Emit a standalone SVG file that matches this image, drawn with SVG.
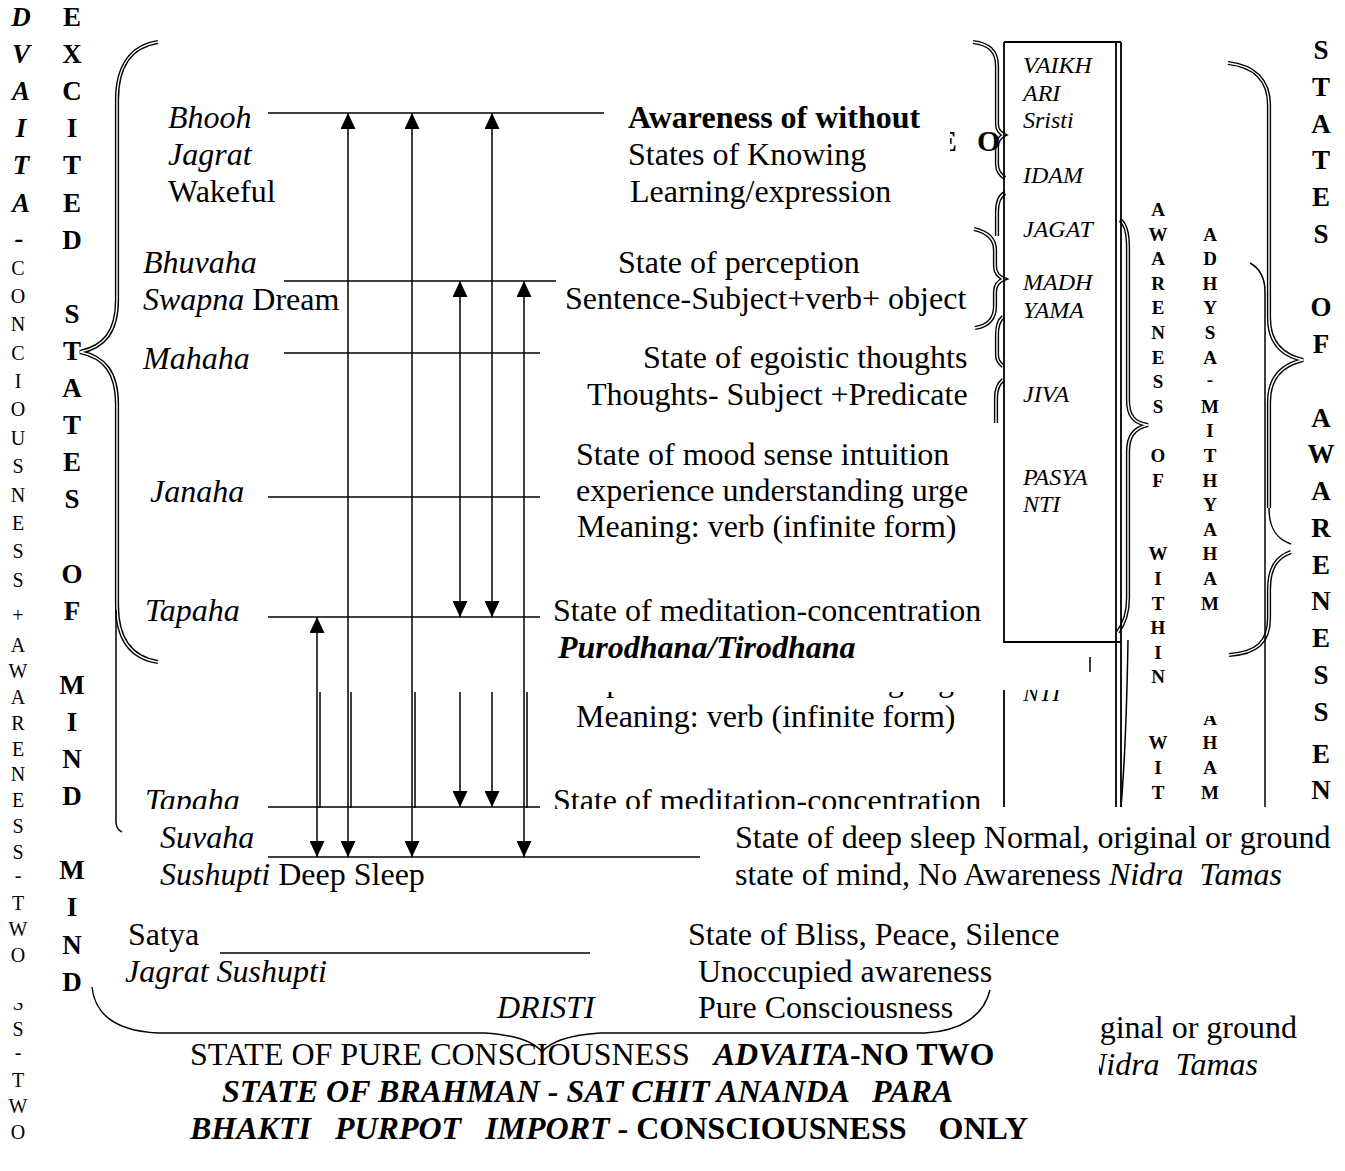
<svg xmlns="http://www.w3.org/2000/svg" width="1345" height="1171" viewBox="0 0 1345 1171">
<style>
text{font-family:"Liberation Serif","Times New Roman",serif;fill:#000}
.t{font-size:32px}
.i{font-style:italic}
.b{font-weight:bold}
.bx{font-size:24px;font-style:italic}
.cL{font-size:27px;font-weight:bold;text-anchor:middle}
.cP{font-size:20px;text-anchor:middle}
.cS{font-size:19px;font-weight:bold;text-anchor:middle}
.ln{stroke:#000;stroke-width:1.5;fill:none}
.bl{stroke:#000;stroke-width:1.8;fill:none}
.dO{stroke:#000;stroke-width:4.2;fill:none}
.dI{stroke:#fff;stroke-width:1.4;fill:none}
</style>
<defs>
<marker id="ah" viewBox="0 0 16 15" refX="16" refY="7.5" markerWidth="16" markerHeight="15" markerUnits="userSpaceOnUse" orient="auto-start-reverse"><path d="M0,0 L16,7.5 L0,15 z" fill="#000"/></marker>
<clipPath id="gL"><rect x="100" y="692" width="900" height="117"/></clipPath>
<clipPath id="gNTI"><rect x="1005" y="690" width="100" height="119"/></clipPath>
<clipPath id="gCol"><rect x="1140" y="716" width="100" height="93"/></clipPath>
<clipPath id="gFar"><rect x="1295" y="737" width="50" height="72"/></clipPath>
<clipPath id="gBR"><rect x="1099" y="1000" width="246" height="171"/></clipPath>
<clipPath id="gBL"><rect x="0" y="1003" width="50" height="168"/></clipPath>
<clipPath id="cEO"><rect x="950" y="100" width="60" height="80"/></clipPath>
<path id="bLB" d="M158 42 C132 46 117 65 117 100 L117 300 C117 332 104 347 80 352 C104 357 117 372 117 404 L117 605 C117 640 132 658 158 662"/>
<path id="bA" d="M973 42 C988 44 997 50 997 66 L997 124 C997 130 1000 133 1004 135 C1000 137 997 141 997 147 L997 164 C997 171 1000 175 1005 178"/>
<path id="bB" d="M1005 193 C999 196 997 202 997 212 L997 236"/>
<path id="bC" d="M974 229 C987 232 995 238 995 250 L995 266 C995 273 999 277 1004 279 C999 281 995 285 995 292 L995 306 C995 319 988 326 975 328"/>
<path id="bD" d="M1003 317 C998 321 997 328 997 335 L997 355 C997 360 999 363 1003 366"/>
<path id="bE" d="M1003 380 C998 384 996 390 996 398 L996 423"/>
<path id="bR" d="M1120 220 C1126 224 1128 233 1128 248 L1128 400 C1128 416 1134 423 1148 425 C1134 428 1128 436 1128 452 L1128 598 C1128 614 1124 624 1118 632"/>
<path id="bRR1" d="M1228 63 C1254 66 1269 80 1269 105 L1269 318 C1269 342 1281 355 1303 360 C1281 365 1269 378 1269 402 L1269 508"/>
<path id="bRR2" d="M1291 552 C1277 557 1269 567 1269 590 L1269 618 C1269 642 1257 653 1229 655"/>
</defs>
<rect width="1345" height="1171" fill="#fff"/>

<g id="col-dvaita">
<text class="cL i"><tspan x="21" y="26">D</tspan><tspan x="21" y="63.1">V</tspan><tspan x="21" y="100.2">A</tspan><tspan x="21" y="137.3">I</tspan><tspan x="21" y="174.4">T</tspan><tspan x="21" y="211.5">A</tspan><tspan x="19" y="247">-</tspan></text>
<text class="cP"><tspan x="18" y="274.6">C</tspan><tspan x="18" y="303">O</tspan><tspan x="18" y="331.3">N</tspan><tspan x="18" y="359.7">C</tspan><tspan x="18" y="388.1">I</tspan><tspan x="18" y="416.4">O</tspan><tspan x="18" y="444.8">U</tspan><tspan x="18" y="473.1">S</tspan><tspan x="18" y="501.5">N</tspan><tspan x="18" y="529.9">E</tspan><tspan x="18" y="558.2">S</tspan><tspan x="18" y="586.6">S</tspan><tspan x="18" y="622">+</tspan><tspan x="18" y="652.4">A</tspan><tspan x="18" y="678.1">W</tspan><tspan x="18" y="703.9">A</tspan><tspan x="18" y="729.6">R</tspan><tspan x="18" y="755.5">E</tspan><tspan x="18" y="781.3">N</tspan><tspan x="18" y="807.1">E</tspan><tspan x="18" y="832.8">S</tspan><tspan x="18" y="858.6">S</tspan><tspan x="18" y="882">-</tspan><tspan x="18" y="910.1">T</tspan><tspan x="18" y="935.9">W</tspan><tspan x="18" y="961.6">O</tspan></text>
<text class="cP" clip-path="url(#gBL)"><tspan x="18" y="1009.8">S</tspan><tspan x="18" y="1035.6">S</tspan><tspan x="18" y="1059.3">-</tspan><tspan x="18" y="1087.1">T</tspan><tspan x="18" y="1112.9">W</tspan><tspan x="18" y="1138.6">O</tspan></text>
</g>

<g id="col-excited">
<text class="cL"><tspan x="72" y="26">E</tspan><tspan x="72" y="63.1">X</tspan><tspan x="72" y="100.2">C</tspan><tspan x="72" y="137.3">I</tspan><tspan x="72" y="174.4">T</tspan><tspan x="72" y="211.5">E</tspan><tspan x="72" y="248.6">D</tspan><tspan x="72" y="322.8">S</tspan><tspan x="72" y="359.9">T</tspan><tspan x="72" y="397">A</tspan><tspan x="72" y="434.1">T</tspan><tspan x="72" y="471.2">E</tspan><tspan x="72" y="508.3">S</tspan><tspan x="72" y="582.5">O</tspan><tspan x="72" y="619.6">F</tspan><tspan x="72" y="693.8">M</tspan><tspan x="72" y="730.9">I</tspan><tspan x="72" y="768">N</tspan><tspan x="72" y="805.1">D</tspan><tspan x="72" y="879.3">M</tspan><tspan x="72" y="916.4">I</tspan><tspan x="72" y="953.5">N</tspan><tspan x="72" y="990.6">D</tspan></text>
</g>

<g id="braces">
<use href="#bLB" class="dO"/><use href="#bLB" class="dI"/>
<path class="ln" d="M116 610 L116 822 C116 827 118 830 122 832"/>
<use href="#bA" class="dO"/><use href="#bA" class="dI"/>
<use href="#bB" class="dO"/><use href="#bB" class="dI"/>
<use href="#bC" class="dO"/><use href="#bC" class="dI"/>
<use href="#bD" class="dO"/><use href="#bD" class="dI"/>
<use href="#bE" class="dO"/><use href="#bE" class="dI"/>
<use href="#bR" class="dO"/><use href="#bR" class="dI"/>
<path class="ln" d="M1128 640 C1127 700 1125 760 1121 807"/>
<use href="#bRR1" class="dO"/><use href="#bRR1" class="dI"/>
<path class="ln" d="M1269 508 C1269 528 1276 539 1291 544"/>
<use href="#bRR2" class="dO"/><use href="#bRR2" class="dI"/>
<path class="ln" d="M1250 263 C1259 268 1265 277 1265 292 L1265 807"/>
<path class="ln" d="M92 987 C95 1015 116 1031 158 1033 L485 1033 C514 1035 534 1042 542 1052 C550 1042 570 1035 600 1033 L925 1033 C962 1031 984 1015 990 990"/>
</g>

<g id="eo-fragment" clip-path="url(#cEO)">
<text class="t b" x="937" y="151" style="font-size:30px">E</text>
<text class="t b" x="977" y="151" style="font-size:30px">O</text>
</g>

<g id="vak-box">
<path class="bl" d="M1004 42 H1121 M1004 42 V642 H1121 M1116 42 V807 M1121 42 V807"/>
<path class="bl" d="M1004 690 V807"/>
<path class="ln" d="M1090 657 L1090 672"/>
<text class="bx"><tspan x="1023" y="73">VAIKH</tspan><tspan x="1023" y="100.5">ARI</tspan><tspan x="1023" y="128">Sristi</tspan><tspan x="1023" y="183">IDAM</tspan><tspan x="1023" y="237">JAGAT</tspan><tspan x="1023" y="290">MADH</tspan><tspan x="1023" y="318">YAMA</tspan><tspan x="1023" y="402">JIVA</tspan><tspan x="1023" y="485">PASYA</tspan><tspan x="1023" y="512">NTI</tspan></text>
<text class="bx" x="1023" y="701" clip-path="url(#gNTI)">NTI</text>
</g>

<g id="col-awareness-within">
<text class="cS"><tspan x="1158" y="216">A</tspan><tspan x="1158" y="240.6">W</tspan><tspan x="1158" y="265.2">A</tspan><tspan x="1158" y="289.8">R</tspan><tspan x="1158" y="314.4">E</tspan><tspan x="1158" y="339">N</tspan><tspan x="1158" y="363.6">E</tspan><tspan x="1158" y="388.2">S</tspan><tspan x="1158" y="412.8">S</tspan><tspan x="1158" y="462">O</tspan><tspan x="1158" y="486.6">F</tspan><tspan x="1158" y="560.4">W</tspan><tspan x="1158" y="585">I</tspan><tspan x="1158" y="609.6">T</tspan><tspan x="1158" y="634.2">H</tspan><tspan x="1158" y="658.8">I</tspan><tspan x="1158" y="683.4">N</tspan></text>
<text class="cS" clip-path="url(#gCol)"><tspan x="1158" y="749.4">W</tspan><tspan x="1158" y="774">I</tspan><tspan x="1158" y="798.6">T</tspan></text>
</g>

<g id="col-adhysa">
<text class="cS"><tspan x="1210" y="240.6">A</tspan><tspan x="1210" y="265.2">D</tspan><tspan x="1210" y="289.8">H</tspan><tspan x="1210" y="314.4">Y</tspan><tspan x="1210" y="339">S</tspan><tspan x="1210" y="363.6">A</tspan><tspan x="1210" y="386">-</tspan><tspan x="1210" y="412.8">M</tspan><tspan x="1210" y="437.4">I</tspan><tspan x="1210" y="462">T</tspan><tspan x="1210" y="486.6">H</tspan><tspan x="1210" y="511.2">Y</tspan><tspan x="1210" y="535.8">A</tspan><tspan x="1210" y="560.4">H</tspan><tspan x="1210" y="585">A</tspan><tspan x="1210" y="609.6">M</tspan></text>
<text class="cS" clip-path="url(#gCol)"><tspan x="1210" y="724.8">A</tspan><tspan x="1210" y="749.4">H</tspan><tspan x="1210" y="774">A</tspan><tspan x="1210" y="798.6">M</tspan></text>
</g>

<g id="col-states-awareness">
<text class="cL"><tspan x="1321" y="59">S</tspan><tspan x="1321" y="95.75">T</tspan><tspan x="1321" y="132.5">A</tspan><tspan x="1321" y="169.25">T</tspan><tspan x="1321" y="206">E</tspan><tspan x="1321" y="242.75">S</tspan><tspan x="1321" y="316.25">O</tspan><tspan x="1321" y="353">F</tspan><tspan x="1321" y="426.5">A</tspan><tspan x="1321" y="463.25">W</tspan><tspan x="1321" y="500">A</tspan><tspan x="1321" y="536.75">R</tspan><tspan x="1321" y="573.5">E</tspan><tspan x="1321" y="610.25">N</tspan><tspan x="1321" y="647">E</tspan><tspan x="1321" y="683.75">S</tspan><tspan x="1321" y="720.5">S</tspan></text>
<text class="cL" clip-path="url(#gFar)"><tspan x="1321" y="762.5">E</tspan><tspan x="1321" y="799.25">N</tspan></text>
</g>

<g id="level-bhooh">
<path class="ln" d="M268 113 H604"/>
<text class="t i" x="168" y="128">Bhooh</text>
<text class="t i" x="168" y="165">Jagrat</text>
<text class="t" x="168" y="202">Wakeful</text>
<text class="t b" x="628" y="128">Awareness of without</text>
<text class="t" x="628" y="165">States of Knowing</text>
<text class="t" x="630" y="202">Learning/expression</text>
</g>

<g id="level-bhuvaha">
<path class="ln" d="M284 281 H556"/>
<text class="t i" x="143" y="273">Bhuvaha</text>
<text class="t" x="143" y="310"><tspan class="i">Swapna</tspan> Dream</text>
<text class="t" x="618" y="273">State of perception</text>
<text class="t" x="565" y="309">Sentence-Subject+verb+ object</text>
</g>

<g id="level-mahaha">
<path class="ln" d="M284 353 H540"/>
<text class="t i" x="143" y="369">Mahaha</text>
<text class="t" x="643" y="368">State of egoistic thoughts</text>
<text class="t" x="587" y="405">Thoughts- Subject +Predicate</text>
</g>

<g id="level-janaha">
<path class="ln" d="M268 497 H540"/>
<text class="t i" x="150" y="502">Janaha</text>
<text class="t" x="576" y="465">State of mood sense intuition</text>
<text class="t" x="576" y="501">experience understanding urge</text>
<text class="t" x="577" y="537">Meaning: verb (infinite form)</text>
</g>

<g id="level-tapaha">
<path class="ln" d="M268 617 H540"/>
<text class="t i" x="145" y="621">Tapaha</text>
<text class="t" x="553" y="621">State of meditation-concentration</text>
<text class="t b i" x="558" y="658">Purodhana/Tirodhana</text>
</g>

<g id="ghost-band" clip-path="url(#gL)">
<text class="t i" x="150" y="692">Janaha</text>
<text class="t" x="576" y="691">experience understanding urge</text>
<text class="t" x="576" y="727">Meaning: verb (infinite form)</text>
<text class="t i" x="145" y="811">Tapaha</text>
<text class="t" x="553" y="811">State of meditation-concentration</text>
<path class="ln" d="M268 807 H540"/>
<path class="ln" d="M320 680 V808 M351 680 V808 M415 680 V808 M527 680 V808"/>
<path class="ln" d="M460 680 V807" marker-end="url(#ah)"/>
<path class="ln" d="M492 680 V807" marker-end="url(#ah)"/>
</g>

<g id="level-suvaha">
<path class="ln" d="M268 857 H700"/>
<text class="t i" x="160" y="848">Suvaha</text>
<text class="t" x="160" y="885"><tspan class="i">Sushupti</tspan> Deep Sleep</text>
<text class="t" x="735" y="848">State of deep sleep Normal, original or ground</text>
<text class="t" x="735" y="885" xml:space="preserve">state of mind, No Awareness <tspan class="i">Nidra  Tamas</tspan></text>
</g>

<g id="ghost-bottom-right" clip-path="url(#gBR)">
<text class="t" x="1297" y="1038" text-anchor="end">original or ground</text>
<text class="t i" x="1258" y="1075" text-anchor="end" xml:space="preserve">Nidra  Tamas</text>
</g>

<g id="level-satya">
<path class="ln" d="M220 953 H590"/>
<text class="t" x="128" y="945">Satya</text>
<text class="t i" x="125" y="981.5">Jagrat Sushupti</text>
<text class="t i" x="497" y="1018">DRISTI</text>
<text class="t" x="688" y="945">State of Bliss, Peace, Silence</text>
<text class="t" x="698" y="981.5">Unoccupied awareness</text>
<text class="t" x="698" y="1018">Pure Consciousness</text>
</g>

<g id="pure-consciousness">
<text class="t" x="190" y="1065" xml:space="preserve">STATE OF PURE CONSCIOUSNESS   <tspan class="b i">ADVAITA</tspan><tspan class="b">-NO TWO</tspan></text>
<text class="t b i" x="222" y="1102" xml:space="preserve">STATE OF BRAHMAN - SAT CHIT ANANDA   PARA</text>
<text class="t b" x="190" y="1139" xml:space="preserve"><tspan class="i">BHAKTI   PURPOT   IMPORT</tspan> - CONSCIOUSNESS    ONLY</text>
</g>

<g id="connectors">
<path class="ln" d="M317 617 V857" marker-start="url(#ah)" marker-end="url(#ah)"/>
<path class="ln" d="M348 113 V857" marker-start="url(#ah)" marker-end="url(#ah)"/>
<path class="ln" d="M412 113 V857" marker-start="url(#ah)" marker-end="url(#ah)"/>
<path class="ln" d="M460 281 V617" marker-start="url(#ah)" marker-end="url(#ah)"/>
<path class="ln" d="M492 113 V617" marker-start="url(#ah)" marker-end="url(#ah)"/>
<path class="ln" d="M524 281 V857" marker-start="url(#ah)" marker-end="url(#ah)"/>
</g>
</svg>
